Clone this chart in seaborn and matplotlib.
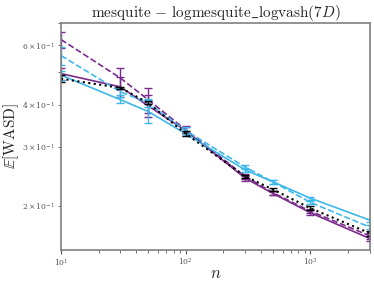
import matplotlib
matplotlib.use("Agg")
import matplotlib.pyplot as plt
import seaborn as sns
import pandas as pd
import numpy as np

n = [10, 30, 50, 100, 300, 500, 1000, 3000]
purple_solid = [0.495, 0.452, 0.397, 0.335, 0.242, 0.218, 0.191, 0.160]
purple_solid_err = [0.02, 0.03, 0.03, 0.008, 0.004, 0.003, 0.003, 0.003]
purple_dashed = [0.625, 0.480, 0.414, 0.337, 0.245, 0.219, 0.193, 0.163]
purple_dashed_err = [0.035, 0.035, 0.035, 0.008, 0.004, 0.003, 0.003, 0.003]
blue_solid = [0.490, 0.414, 0.382, 0.328, 0.256, 0.236, 0.211, 0.1815]
blue_solid_err = [0.015, 0.008, 0.03, 0.006, 0.004, 0.003, 0.002, 0.002]
blue_dashed = [0.560, 0.437, 0.405, 0.335, 0.261, 0.236, 0.205, 0.173]
blue_dashed_err = [0.035, 0.01, 0.012, 0.008, 0.004, 0.003, 0.002, 0.002]
black_dotted = [0.478, 0.449, 0.405, 0.328, 0.245, 0.224, 0.197, 0.166]
black_dotted_err = [0.012, 0.004, 0.004, 0.006, 0.003, 0.002, 0.003, 0.003]

series_names = ["purple_solid", "purple_dashed", "blue_solid", "blue_dashed", "black_dotted"]
series_vals = [purple_solid, purple_dashed, blue_solid, blue_dashed, black_dotted]
series_errs = [purple_solid_err, purple_dashed_err, blue_solid_err, blue_dashed_err, black_dotted_err]
colors = {"purple_solid": "#7b2a8c", "purple_dashed": "#7b2a8c",
          "blue_solid": "#3db8ea", "blue_dashed": "#3db8ea", "black_dotted": "black"}
styles = {"purple_solid": "-", "purple_dashed": "--", "blue_solid": "-",
          "blue_dashed": "--", "black_dotted": ":"}

rows = []
for name, vals, errs in zip(series_names, series_vals, series_errs):
    for x, v, e in zip(n, vals, errs):
        rows.append({"n": x, "val": v, "err": e, "series": name})
df = pd.DataFrame(rows)

sns.set_style("white")
plt.rcParams["mathtext.fontset"] = "cm"
plt.rcParams["font.family"] = ["DejaVu Serif"]

fig = plt.figure(figsize=(3.74, 2.87), dpi=100)
ax = fig.add_axes([0.163, 0.129, 0.826, 0.791])

for name in series_names:
    sub = df[df["series"] == name]
    sns.lineplot(data=sub, x="n", y="val", ax=ax, color=colors[name],
                 linestyle=styles[name], linewidth=1.2 if name != "black_dotted" else 1.5,
                 legend=False)
    ax.errorbar(sub["n"], sub["val"], yerr=sub["err"], fmt="none",
                ecolor=colors[name], elinewidth=1.0, capsize=3, capthick=1.0)

ax.set_xscale("log")
ax.set_yscale("log")
ax.set_xlim(10, 3000)
ax.set_ylim(0.148, 0.70)
ax.set_title(r"$\mathrm{mesquite}\,-\,\mathrm{logmesquite\_logvash}(7D)$", fontsize=11, pad=4)
ax.set_xlabel(r"$n$", fontsize=12)
ax.set_ylabel(r"$\mathbb{E}[\mathrm{WASD}]$", fontsize=11)
ax.xaxis.set_label_coords(0.5, -0.065)
ax.yaxis.set_label_coords(-0.128, 0.5)
ax.tick_params(axis="both", which="both", labelsize=5.5, colors="#555555",
               direction="out", bottom=True, left=True, pad=2)
ax.tick_params(which="major", length=3, width=0.8)
ax.tick_params(which="minor", length=2, width=0.6)
for s in ax.spines.values():
    s.set_color("#808080")
    s.set_linewidth(1.2)

fig.savefig("out.png", dpi=100)
